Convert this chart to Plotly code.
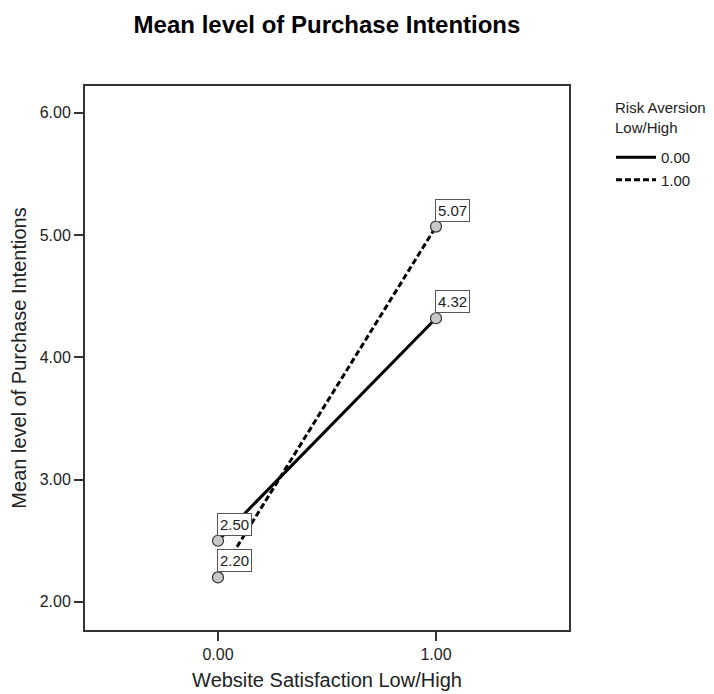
import plotly.graph_objects as go

satisfaction = [0.0, 1.0]
risk_levels = ["0.00", "1.00"]
means_low_risk = [2.50, 4.32]
means_high_risk = [2.20, 5.07]
x_ticks = [0.0, 1.0]
y_ticks = [2.0, 3.0, 4.0, 5.0, 6.0]

FONT = "Liberation Sans, Arial, sans-serif"
W, H = 706, 686          # page body has an 8px margin
L, R, T, B = 77, 145, 78, 64
PW, PH = W - L - R, H - T - B

fig = go.Figure()

series = [(risk_levels[0], means_low_risk, "solid"), (risk_levels[1], means_high_risk, "dash")]
for name, ys, dash in series:
    fig.add_trace(go.Scatter(
        x=satisfaction, y=ys, mode="lines", name=name,
        line=dict(color="black", width=3, dash="solid" if dash == "solid" else "6px,3px"),
    ))
for name, ys, dash in series:
    fig.add_trace(go.Scatter(
        x=satisfaction, y=ys, mode="markers", showlegend=False,
        marker=dict(size=11, color="#c8c8c8", line=dict(color="#333333", width=1.2)),
    ))
    for xv, yv in zip(satisfaction, ys):
        fig.add_annotation(
            x=xv, y=yv, text=f"{yv:.2f}", showarrow=False,
            xanchor="left", yanchor="bottom", xshift=-1, yshift=5,
            bgcolor="white", bordercolor="#555555", borderwidth=1, borderpad=2,
            font=dict(size=15, color="#222222", family=FONT),
        )

# legend heading
fig.add_annotation(
    xref="paper", yref="paper", x=(605 - L)/PW, y=1 + (T - 89)/PH,
    xanchor="left", yanchor="top", align="left", showarrow=False,
    text="Risk Aversion<br>Low/High", font=dict(size=15, color="#222222", family=FONT),
)

fig.update_layout(
    width=W, height=H,
    margin=dict(l=L, r=R, t=T, b=B, autoexpand=False),
    paper_bgcolor="white", plot_bgcolor="white",
    font=dict(family=FONT, color="#222222"),
    title=dict(text="<b>Mean level of Purchase Intentions</b>", x=319/W, xanchor="center",
               y=1 - 17/H, yanchor="middle", font=dict(size=24, color="black"),
               automargin=False),
    legend=dict(x=(603 - L)/PW, xanchor="left", y=1 - (133 - T)/PH, yanchor="top",
                font=dict(size=15), tracegroupgap=0, itemwidth=40),
    xaxis=dict(range=[-0.61, 1.61], tickvals=x_ticks, ticktext=[f"{v:.2f}" for v in x_ticks],
               automargin=False,
               showgrid=False, zeroline=False, showline=True, mirror=True,
               linecolor="#333333", linewidth=2, ticks="outside", ticklen=9, tickwidth=2,
               tickcolor="#333333", tickfont=dict(size=16),
               title=dict(text="Website Satisfaction Low/High", font=dict(size=20), standoff=11)),
    yaxis=dict(range=[1.77, 6.22], tickvals=y_ticks, ticktext=[f"{v:.2f}" for v in y_ticks],
               automargin=False,
               showgrid=False, zeroline=False, showline=True, mirror=True,
               linecolor="#333333", linewidth=2, ticks="outside", ticklen=9, tickwidth=2,
               tickcolor="#333333", tickfont=dict(size=16),
               title=dict(text="Mean level of Purchase Intentions", font=dict(size=20), standoff=16)),
)

fig.write_html("out.html")
